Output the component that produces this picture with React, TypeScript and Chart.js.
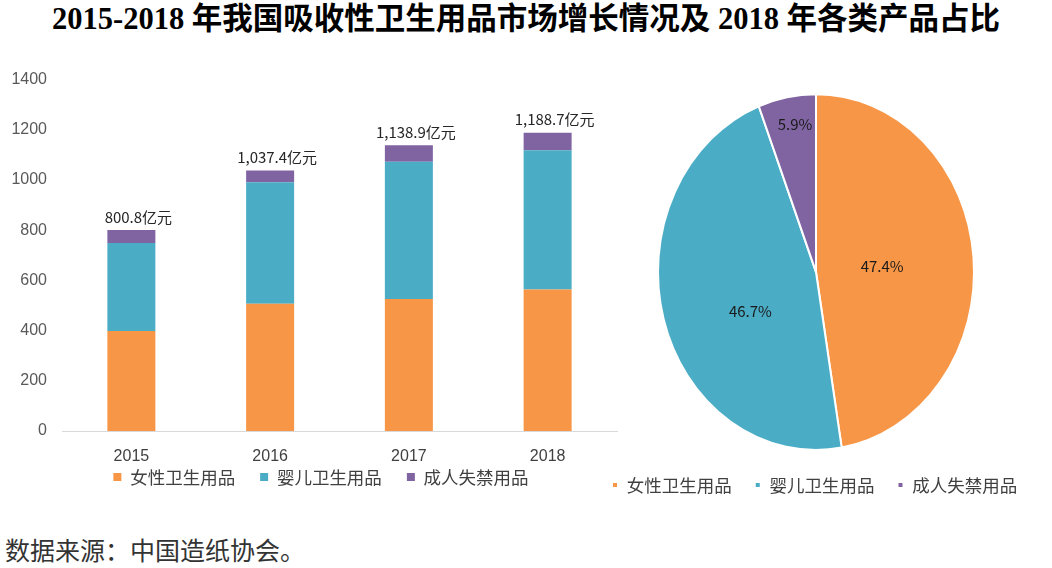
import React, { useEffect, useRef } from 'react';
import { Chart, registerables } from 'chart.js';

Chart.register(...registerables);

// ---- data ----
const years = ['2015', '2016', '2017', '2018'];
const seriesNames = ['女性卫生用品', '婴儿卫生用品', '成人失禁用品'];
const femaleValues = [398.0, 507.0, 526.0, 563.4];
const babyValues = [350.9, 484.0, 547.0, 555.1];
const adultValues = [51.9, 46.4, 65.9, 70.2];
const totals = [800.8, 1037.4, 1138.9, 1188.7];
const pieShares = [47.4, 46.7, 5.9];
const yMin = 0;
const yMax = 1400;
const yStep = 200;

const titleText = '2015-2018 年我国吸收性卫生用品市场增长情况及 2018 年各类产品占比';
const sourceText = '数据来源：中国造纸协会。';

// ---- styles ----
const colors = ['#F79646', '#4BACC6', '#8064A2'];
const CJK = '"Noto Sans CJK SC", "Noto Sans", sans-serif';
const NUM = '"Liberation Sans", Arial, sans-serif';
const PIE_STRETCH = 178 / 158;
const pieLabelPlacement = [
  { r: 0.42, da: 0 },
  { r: 0.47, da: -12.7 },
  { r: 0.84, da: 1.5 },
];

const fmtTotal = (v: number) =>
  v.toLocaleString('en-US', { minimumFractionDigits: 1, maximumFractionDigits: 1 }) + '亿元';

const totalLabelPlugin = {
  id: 'totalLabels',
  afterDatasetsDraw(chart: any) {
    const ctx = chart.ctx;
    const last = chart.data.datasets.length - 1;
    const meta = chart.getDatasetMeta(last);
    ctx.save();
    ctx.font = `15px ${CJK}`;
    ctx.fillStyle = '#262626';
    ctx.textAlign = 'center';
    ctx.textBaseline = 'middle';
    meta.data.forEach((bar: any, i: number) => {
      ctx.fillText(fmtTotal(totals[i]), bar.x + 7, bar.y - 13);
    });
    ctx.restore();
  },
};

const ellipsePlugin = {
  id: 'ellipse',
  beforeDatasetsDraw(chart: any) {
    const a = chart.chartArea;
    const cx = (a.left + a.right) / 2;
    const cy = (a.top + a.bottom) / 2;
    const c = chart.ctx;
    c.save();
    c.translate(cx, cy);
    c.scale(1, PIE_STRETCH);
    c.translate(-cx, -cy);
  },
  afterDatasetsDraw(chart: any) {
    chart.ctx.restore();
  },
};

const pieLabelPlugin = {
  id: 'pieLabels',
  afterDraw(chart: any) {
    const ctx = chart.ctx;
    const meta = chart.getDatasetMeta(0);
    ctx.save();
    ctx.font = `15px ${CJK}`;
    ctx.fillStyle = '#1a1a1a';
    ctx.textAlign = 'center';
    ctx.textBaseline = 'middle';
    meta.data.forEach((arc: any, i: number) => {
      const p = arc.getProps(['x', 'y', 'startAngle', 'endAngle', 'outerRadius'], true);
      const place = pieLabelPlacement[i];
      const mid = (p.startAngle + p.endAngle) / 2 + (place.da * Math.PI) / 180;
      const r = p.outerRadius * place.r;
      const x = p.x + Math.cos(mid) * r;
      const y = p.y + Math.sin(mid) * r * PIE_STRETCH;
      ctx.fillText(pieShares[i].toFixed(1) + '%', x, y);
    });
    ctx.restore();
  },
};

const noLabelClip = (s: any) => {
  s._computeLabelArea = () => undefined;
};

export default function App() {
  const barRef = useRef<HTMLCanvasElement>(null);
  const pieRef = useRef<HTMLCanvasElement>(null);

  useEffect(() => {
    Chart.defaults.font.family = CJK;
    const seriesValues = [femaleValues, babyValues, adultValues];

    const bar = new Chart(barRef.current as HTMLCanvasElement, {
      type: 'bar',
      data: {
        labels: years,
        datasets: seriesNames.map((name, i) => ({
          label: name,
          data: seriesValues[i],
          backgroundColor: colors[i],
          borderWidth: 0,
          categoryPercentage: 1,
          barPercentage: 0.346,
        })),
      },
      options: {
        animation: false,
        responsive: true,
        maintainAspectRatio: false,
        events: [],
        layout: { padding: { left: 25, right: 23, top: 20, bottom: 4.25 } },
        plugins: {
          legend: {
            position: 'bottom',
            labels: {
              boxWidth: 8,
              boxHeight: 8,
              padding: 25,
              color: '#404040',
              font: { family: CJK, size: 17.5 },
            },
          },
          tooltip: { enabled: false },
        },
        scales: {
          x: {
            stacked: true,
            grid: { display: false, drawTicks: false },
            border: { display: true, color: '#D9D9D9', width: 1 },
            ticks: { color: '#404040', padding: 16, font: { family: NUM, size: 16 } },
            afterFit: (s: any) => {
              s.height = 12.25;
              noLabelClip(s);
            },
          },
          y: {
            stacked: true,
            min: yMin,
            max: yMax,
            grid: { display: false, drawTicks: false },
            border: { display: false },
            ticks: {
              stepSize: yStep,
              padding: 15,
              color: '#595959',
              font: { family: NUM, size: 16 },
              callback: (v: any) => String(v),
            },
            afterFit: (s: any) => {
              s.width = 37;
              noLabelClip(s);
            },
          },
        },
      } as any,
      plugins: [totalLabelPlugin],
    });

    const pie = new Chart(pieRef.current as HTMLCanvasElement, {
      type: 'pie',
      data: {
        labels: seriesNames,
        datasets: [
          {
            data: pieShares,
            backgroundColor: colors,
            borderColor: '#ffffff',
            borderWidth: 2,
            radius: 158,
          } as any,
        ],
      },
      options: {
        animation: false,
        responsive: true,
        maintainAspectRatio: false,
        events: [],
        layout: { padding: { left: 29, right: 9, top: 2.75, bottom: 2.25 } },
        plugins: {
          legend: {
            position: 'bottom',
            align: 'start',
            labels: {
              boxWidth: 6,
              boxHeight: 6,
              padding: 23,
              color: '#404040',
              font: { family: CJK, size: 17.5 },
            },
          },
          tooltip: { enabled: false },
        },
      } as any,
      plugins: [ellipsePlugin, pieLabelPlugin],
    });

    return () => {
      bar.destroy();
      pie.destroy();
    };
  }, []);

  return (
    <div
      style={{
        position: 'absolute',
        left: 0,
        top: 0,
        width: 1052,
        height: 568,
        background: '#ffffff',
        overflow: 'hidden',
      }}
    >
      <div
        style={{
          position: 'absolute',
          left: 0,
          top: 4,
          width: 1052,
          textAlign: 'center',
          font: `bold 30.5px/30px "Liberation Serif", "Noto Sans CJK SC", serif`,
          color: '#000',
          whiteSpace: 'nowrap',
        }}
      >
        {titleText}
      </div>
      <div style={{ position: 'absolute', left: 0, top: 55, width: 640, height: 445 }}>
        <canvas ref={barRef} />
      </div>
      <div style={{ position: 'absolute', left: 560, top: 88, width: 492, height: 418 }}>
        <canvas ref={pieRef} />
      </div>
      <div
        style={{
          position: 'absolute',
          left: 5,
          top: 536,
          font: `25px/26px ${CJK}`,
          color: '#333',
          whiteSpace: 'nowrap',
        }}
      >
        {sourceText}
      </div>
    </div>
  );
}
